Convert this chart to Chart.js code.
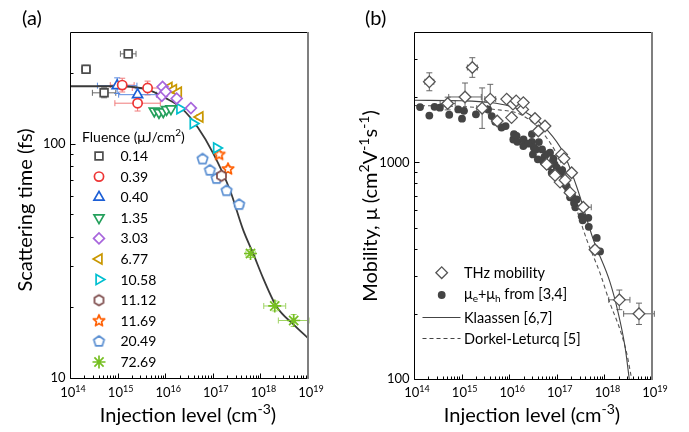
<!DOCTYPE html>
<html>
<head>
<meta charset="utf-8">
<script src="https://cdn.jsdelivr.net/npm/chart.js@4.4.1/dist/chart.umd.min.js"></script>
<style>
html, body { margin: 0; padding: 0; background: #fff; }
#wrap { position: relative; width: 689px; height: 432px; overflow: hidden; }
canvas { position: absolute; top: 0; }
#ca { left: 0; }
#cb { left: 345px; }
</style>
</head>
<body>
<div id="wrap">
  <canvas id="ca" width="345" height="432"></canvas>
  <canvas id="cb" width="344" height="432"></canvas>
</div>
<script>
// ---- panel (a): scattering time (fs) vs injection level, one set per fluence ----
const fluences = ['0.14', '0.39', '0.40', '1.35', '3.03', '6.77', '10.58', '11.12', '11.69', '20.49', '72.69'];

const f014X = [2.17e14, 5.2e14, 1.67e15];
const f014Y = [208, 165, 242];
const f014DX = [1.23, 1.76, 1.46];
const f014DY = [1.04, 1.05, 1.04];

const f039X = [1.25e15, 2.63e15, 4.27e15];
const f039Y = [178, 149, 173];
const f039DX = [1.78, 3.0, 2.1];
const f039DY = [1.07, 1.08, 1.07];

const f040X = [9.8e14, 2.63e15];
const f040Y = [177, 162];
const f040DX = [2.6, 2.5];
const f040DY = [1.08, 1.06];

const f135X = [5.9e15, 7.4e15, 9.1e15, 1.07e16, 1.32e16];
const f135Y = [138, 136, 137, 140, 141];

const f303X = [8.8e15, 8.5e15, 1.03e16, 1.74e16, 3.47e16];
const f303Y = [175, 160, 167, 156, 142];

const f677X = [1.2e16, 1.49e16, 1.89e16, 5.35e16];
const f677Y = [174, 170, 166, 130];
const f677DX = [1.08, 1.08, 1.08, 1.15];

const f1058X = [2.03e16, 3.87e16, 1.2e17];
const f1058Y = [141, 122, 96];
const f1058DX = [1.1, 1.1, 1.1];

const f1112X = [1.52e17];
const f1112Y = [73];
const f1112DX = [1.15];

const f1169X = [1.36e17, 2.09e17];
const f1169Y = [90, 78];
const f1169DX = [1.1, 1.12];
const f1169DY = [1.03, 1.03];

const f2049X = [6.1e16, 8.7e16, 1.2e17, 1.95e17, 3.57e17];
const f2049Y = [86, 77, 71, 63, 55];
const f2049DX = [1, 1.1, 1.15, 1.15, 1.25];

const f7269X = [6.2e17, 2.0e18, 5.0e18];
const f7269Y = [34, 20.3, 17.6];
const f7269DX = [1.25, 1.7, 2.1];
const f7269DY = [1.04, 1.05, 1.06];

// fit curve
const fitAX = [1e14, 1e15, 4.4e15, 1e16, 2.2e16, 4.9e16, 1.02e17, 2.28e17, 4.34e17, 7.0e17, 1.14e18, 2.18e18, 5e18, 1e19];
const fitAY = [176, 176, 170, 157, 142, 117, 91, 63.6, 42.9, 34.1, 26.7, 20.2, 16.9, 14.8];

// ---- panel (b): mobility ----
const thzX = [2.1e14, 5.1e14, 1.18e15, 1.68e15, 2.7e15, 4.0e15, 5.6e15, 8.85e15, 1.12e16, 1.2e16, 1.4e16, 1.92e16, 1.98e16,
  3.48e16, 4.09e16, 5.65e16, 6.14e16, 9.2e16, 1.17e17, 1.26e17, 1.42e17, 1.49e17, 1.89e17, 2.05e17, 3.6e17, 6.35e17, 2.06e18, 5.33e18];
const thzY = [2356, 1870, 2005, 2742, 1780, 1960, 1553, 1960, 1610, 1858, 1923, 1757, 1888,
  1594, 1396, 1472, 979, 871, 811, 1089, 1041, 828, 725, 896, 621, 395, 232, 200];
const thzDX = [1.24, 1.44, 2.2, 1.27, 1.3, 1.3, 1, 1, 1, 1, 1, 1, 1,
  1, 1, 1, 1, 1, 1, 1, 1, 1, 1, 1, 1.47, 1.2, 1.67, 2.1];
const thzDY = [1.1, 1.07, 1.16, 1.11, 1.24, 1.17, 1, 1, 1, 1, 1, 1, 1,
  1, 1, 1, 1, 1, 1, 1, 1, 1, 1, 1, 1, 1.04, 1.11, 1.12];

const sumX = [1.34e14, 2.1e14, 2.7e14, 3.5e14, 5.5e14, 8.5e14, 1.02e15, 1.12e15, 2.0e15, 3.6e15, 4.3e15, 5.1e15, 6.9e15, 8.4e15,
  1.22e16, 1.26e16, 1.43e16, 1.48e16, 1.98e16, 2.0e16, 3.0e16, 3.0e16, 3.3e16, 3.15e16, 3.66e16, 4.0e16, 4.2e16, 4.9e16,
  5.5e16, 7.2e16, 6.6e16, 7.8e16, 8.5e16, 9.0e16, 9.96e16, 1.05e17, 1.1e17, 1.27e17, 1.3e17, 1.4e17, 1.61e17, 1.75e17,
  2.1e17, 2.45e17, 2.62e17, 3.33e17, 3.5e17, 4.6e17, 4.7e17, 6.9e17, 8.1e17,
  2.5e16, 5.2e16, 6.0e16, 8.0e16, 1.15e17, 1.5e17, 1.9e17, 2.3e17];
const sumY = [1800, 1645, 1805, 1790, 1660, 1757, 1592, 1730, 1667, 1757, 1637, 1540, 1449, 1472,
  1276, 1351, 1324, 1245, 1189, 1276, 1351, 1245, 1170, 1089, 1148, 1033, 1241, 1148,
  1060, 1109, 961, 896, 1040, 980, 946, 860, 900, 865, 920, 810, 777, 740,
  700, 620, 674, 564, 540, 555, 504, 448, 388,
  1220, 1010, 1090, 1000, 830, 790, 690, 650];

const klaX = [1e14, 1e15, 4e15, 1e16, 2.7e16, 6.1e16, 1.37e17, 2.65e17, 5.85e17, 1.31e18, 1.96e18, 2.71e18, 3.33e18];
const klaY = [1936, 1925, 1890, 1820, 1660, 1422, 1110, 766, 440, 280, 201, 141, 100];

const dorX = [1e14, 1e15, 4.6e15, 1.98e16, 6.1e16, 1.37e17, 2.22e17, 4.25e17, 8.1e17, 1.31e18, 2.13e18, 2.94e18, 3.74e18];
const dorY = [1830, 1810, 1760, 1640, 1300, 944, 680, 440, 308, 224, 169, 131.5, 100];

// axis ticks
const xExponents = [14, 15, 16, 17, 18, 19];
const yLabelsA = [10, 100];
const yLabelsB = [100, 1000];

// ---------------------------------------------------------------
const FONT = 'Lato, "Open Sans", sans-serif';

function pts(xs, ys) {
  return xs.map((x, i) => ({ x: x, y: ys[i] }));
}

function polyShape(n, color, r, inner) {
  const s = Math.ceil(2 * r + 4);
  const c = document.createElement('canvas');
  c.width = s; c.height = s;
  const g = c.getContext('2d');
  g.translate(s / 2, s / 2);
  g.beginPath();
  const k = inner ? n * 2 : n;
  for (let i = 0; i < k; i++) {
    const a = -Math.PI / 2 + i * 2 * Math.PI / k;
    const rr = (inner && i % 2) ? r * inner : r;
    g.lineTo(rr * Math.cos(a), rr * Math.sin(a));
  }
  g.closePath();
  g.fillStyle = '#fff';
  g.fill();
  g.lineWidth = 1.7;
  g.lineJoin = 'round';
  g.strokeStyle = color;
  g.stroke();
  return c;
}

function parseRich(str) {
  const out = [];
  const re = /([\^_])\{([^}]*)\}/g;
  let last = 0, m;
  while ((m = re.exec(str))) {
    if (m.index > last) out.push({ t: str.slice(last, m.index) });
    out.push({ t: m[2], k: m[1] === '^' ? 'sup' : 'sub' });
    last = re.lastIndex;
  }
  if (last < str.length) out.push({ t: str.slice(last) });
  return out;
}

function drawRich(ctx, str, x, y, size, align) {
  const segs = parseRich(str);
  const fontOf = s => (s.k ? Math.round(size * 0.68) : size) + 'px ' + FONT;
  let w = 0;
  segs.forEach(s => { ctx.font = fontOf(s); w += ctx.measureText(s.t).width; });
  let cx = align === 'center' ? x - w / 2 : align === 'right' ? x - w : x;
  ctx.textAlign = 'left';
  ctx.textBaseline = 'alphabetic';
  segs.forEach(s => {
    ctx.font = fontOf(s);
    const dy = s.k === 'sup' ? -size * 0.4 : s.k === 'sub' ? size * 0.22 : 0;
    ctx.fillText(s.t, cx, y + dy);
    cx += ctx.measureText(s.t).width;
  });
}

function logTicks(min, max) {
  const out = [];
  for (let d = Math.floor(Math.log10(min)); d <= Math.ceil(Math.log10(max)); d++) {
    for (let m = 1; m < 10; m++) {
      const v = m * Math.pow(10, d);
      if (v >= min * 0.999 && v < max * 0.999) out.push({ v: v, major: m === 1 });
    }
  }
  return out;
}

// error bars drawn under the markers
const errorBars = {
  id: 'errorBars',
  beforeDatasetsDraw(chart) {
    const ctx = chart.ctx, xs = chart.scales.x, ys = chart.scales.y;
    chart.data.datasets.forEach(ds => {
      if (!ds.dx && !ds.dy) return;
      ctx.save();
      ctx.strokeStyle = ds.errColor || ds.borderColor;
      ctx.lineWidth = 1;
      ds.data.forEach((p, j) => {
        const x = xs.getPixelForValue(p.x), y = ys.getPixelForValue(p.y);
        const fx = ds.dx ? ds.dx[j] : 1, fy = ds.dy ? ds.dy[j] : 1;
        ctx.beginPath();
        if (fx > 1) {
          const x0 = xs.getPixelForValue(p.x / fx), x1 = xs.getPixelForValue(p.x * fx);
          ctx.moveTo(x0, y); ctx.lineTo(x1, y);
          ctx.moveTo(x0, y - 3); ctx.lineTo(x0, y + 3);
          ctx.moveTo(x1, y - 3); ctx.lineTo(x1, y + 3);
        }
        if (fy > 1) {
          const y0 = ys.getPixelForValue(p.y / fy), y1 = ys.getPixelForValue(p.y * fy);
          ctx.moveTo(x, y0); ctx.lineTo(x, y1);
          ctx.moveTo(x - 3, y0); ctx.lineTo(x + 3, y0);
          ctx.moveTo(x - 3, y1); ctx.lineTo(x + 3, y1);
        }
        ctx.stroke();
      });
      ctx.restore();
    });
  }
};

// frame, inward log ticks, tick labels, titles, legend
const panel = {
  id: 'panel',
  afterDraw(chart, args, o) {
    const ctx = chart.ctx, a = chart.chartArea, xs = chart.scales.x, ys = chart.scales.y;
    const L = Math.round(a.left) + 0.5, R = Math.round(a.right), T = Math.round(a.top) + 0.5, B = Math.round(a.bottom) + 0.5;
    ctx.save();
    ctx.strokeStyle = '#000';
    ctx.lineWidth = 1;
    ctx.beginPath();
    ctx.moveTo(R, T); ctx.lineTo(L, T); ctx.lineTo(L, B); ctx.lineTo(R, B);
    logTicks(xs.min, xs.max).forEach(t => {
      const px = Math.round(xs.getPixelForValue(t.v)) + 0.5;
      ctx.moveTo(px, B); ctx.lineTo(px, B - (t.major ? 5 : 3));
    });
    logTicks(ys.min, ys.max).forEach(t => {
      const py = Math.round(ys.getPixelForValue(t.v)) + 0.5;
      ctx.moveTo(L, py); ctx.lineTo(L + (t.major ? 5 : 3), py);
    });
    ctx.stroke();
    ctx.strokeStyle = '#7f7f7f';
    ctx.lineWidth = 2;
    ctx.beginPath(); ctx.moveTo(R, T - 0.5); ctx.lineTo(R, B + 0.5); ctx.stroke();

    ctx.fillStyle = '#000';
    xExponents.forEach(e => {
      drawRich(ctx, '10^{' + e + '}', xs.getPixelForValue(Math.pow(10, e)) + 3, 397, 13, 'center');
    });
    o.yLabels.forEach(v => {
      ctx.font = '13px ' + FONT;
      ctx.textAlign = 'right';
      ctx.textBaseline = 'middle';
      ctx.fillText(String(v), L - 5, ys.getPixelForValue(v));
    });
    drawRich(ctx, o.xTitle, (a.left + a.right) / 2 - 1, 421.5, 20, 'center');
    ctx.save();
    ctx.translate(31.5, o.yTitleY);
    ctx.rotate(-Math.PI / 2);
    drawRich(ctx, o.yTitle, 0, 0, 20, 'center');
    ctx.restore();
    ctx.font = '20px ' + FONT;
    ctx.textAlign = 'left';
    ctx.textBaseline = 'alphabetic';
    ctx.fillText(o.label, o.labelX, 25);
    o.legend(ctx, chart);
    ctx.restore();
  }
};

function drawMarker(ctx, ds, x, y) {
  ctx.save();
  ctx.fillStyle = ds.pointBackgroundColor || '#fff';
  ctx.strokeStyle = ds.borderColor;
  ctx.lineWidth = ds.pointBorderWidth;
  Chart.helpers.drawPoint(ctx, {
    pointStyle: ds.pointStyle, rotation: ds.pointRotation || 0,
    radius: ds.pointRadius, borderWidth: ds.pointBorderWidth
  }, x, y);
  ctx.restore();
}

// ---- panel (a) datasets ----
const colorsA = ['#4d4d4d', '#ee3535', '#1c5fd6', '#24a05c', '#a866dc', '#c99700', '#00bfd0', '#7b4848', '#ff5e00', '#5a8fd2', '#76bf22'];
const errColorsA = ['#6a6a6a', '#f07a7a', '#5a8be0', '#24a05c', '#a866dc', '#c99700', '#30c8d8', '#7b4848', '#ff8a40', '#7fa8dc', '#9fd364'];
const seriesA = [
  [f014X, f014Y, f014DX, f014DY],
  [f039X, f039Y, f039DX, f039DY],
  [f040X, f040Y, f040DX, f040DY],
  [f135X, f135Y, null, null],
  [f303X, f303Y, null, null],
  [f677X, f677Y, f677DX, null],
  [f1058X, f1058Y, f1058DX, null],
  [f1112X, f1112Y, f1112DX, null],
  [f1169X, f1169Y, f1169DX, f1169DY],
  [f2049X, f2049Y, f2049DX, null],
  [f7269X, f7269Y, f7269DX, f7269DY]
];
const stylesA = [
  { ps: 'rect', r: 5.5 },
  { ps: 'circle', r: 4.6 },
  { ps: 'triangle', r: 5.8 },
  { ps: 'triangle', r: 5.8, rot: 180 },
  { ps: 'rectRot', r: 5.4 },
  { ps: 'triangle', r: 5.8, rot: 270 },
  { ps: 'triangle', r: 5.8, rot: 90 },
  { ps: polyShape(6, colorsA[7], 5.2), r: 5 },
  { ps: polyShape(5, colorsA[8], 6, 0.45), r: 5 },
  { ps: polyShape(5, colorsA[9], 5.5), r: 5 },
  { ps: 'star', r: 6.5 }
];

const datasetsA = seriesA.map((s, i) => ({
  label: fluences[i],
  data: pts(s[0], s[1]),
  dx: s[2], dy: s[3],
  errColor: errColorsA[i],
  borderColor: colorsA[i],
  pointBackgroundColor: '#fff',
  pointStyle: stylesA[i].ps,
  pointRotation: stylesA[i].rot || 0,
  pointRadius: stylesA[i].r,
  pointBorderWidth: 1.7,
  showLine: false
}));
datasetsA.push({
  label: 'fit',
  data: pts(fitAX, fitAY),
  showLine: true,
  borderColor: '#3a3a3a',
  borderWidth: 1.8,
  pointRadius: 0,
  cubicInterpolationMode: 'monotone',
  fill: false
});

new Chart(document.getElementById('ca'), {
  type: 'scatter',
  data: { datasets: datasetsA },
  options: {
    responsive: false,
    devicePixelRatio: 1,
    animation: false,
    layout: { padding: { left: 70, right: 37, top: 32, bottom: 54 } },
    scales: {
      x: { type: 'logarithmic', min: 1e14, max: 1e19, display: false },
      y: { type: 'logarithmic', min: 10, max: 300, display: false }
    },
    plugins: {
      legend: { display: false },
      tooltip: { enabled: false },
      panel: {
        label: '(a)', labelX: 22,
        yLabels: yLabelsA,
        xTitle: 'Injection level (cm^{-3})',
        yTitle: 'Scattering time (fs)',
        yTitleY: 210,
        legend(ctx, chart) {
          ctx.fillStyle = '#000';
          drawRich(ctx, 'Fluence (\u03bcJ/cm^{2})', 82, 142, 14, 'left');
          chart.data.datasets.slice(0, fluences.length).forEach((ds, i) => {
            const y = 156 + i * 20.6;
            drawMarker(ctx, ds, 99, y);
            ctx.fillStyle = '#000';
            ctx.font = '14px ' + FONT;
            ctx.textAlign = 'left';
            ctx.textBaseline = 'middle';
            ctx.fillText(fluences[i], 120.5, y + 0.5);
          });
        }
      }
    }
  },
  plugins: [errorBars, panel]
});

// ---- panel (b) datasets ----
const datasetsB = [
  {
    label: 'THz mobility',
    data: pts(thzX, thzY),
    dx: thzDX, dy: thzDY,
    errColor: '#666',
    borderColor: '#555',
    pointBackgroundColor: '#fff',
    pointStyle: 'rectRot',
    pointRadius: 5.8,
    pointBorderWidth: 1.3,
    showLine: false
  },
  {
    label: '\u03bce+\u03bch from [3,4]',
    data: pts(sumX, sumY),
    borderColor: '#444',
    pointBackgroundColor: '#444',
    pointStyle: 'circle',
    pointRadius: 3.9,
    pointBorderWidth: 0,
    showLine: false
  },
  {
    label: 'Klaassen [6,7]',
    data: pts(klaX, klaY),
    showLine: true,
    borderColor: '#444',
    borderWidth: 1.1,
    pointRadius: 0,
    cubicInterpolationMode: 'monotone',
    fill: false
  },
  {
    label: 'Dorkel-Leturcq [5]',
    data: pts(dorX, dorY),
    showLine: true,
    borderColor: '#555',
    borderWidth: 1.1,
    borderDash: [4, 3],
    pointRadius: 0,
    cubicInterpolationMode: 'monotone',
    fill: false
  }
];

new Chart(document.getElementById('cb'), {
  type: 'scatter',
  data: { datasets: datasetsB },
  options: {
    responsive: false,
    devicePixelRatio: 1,
    animation: false,
    layout: { padding: { left: 69, right: 37, top: 32, bottom: 53 } },
    scales: {
      x: { type: 'logarithmic', min: 1e14, max: 1e19, display: false },
      y: { type: 'logarithmic', min: 100, max: 4000, display: false }
    },
    plugins: {
      legend: { display: false },
      tooltip: { enabled: false },
      panel: {
        label: '(b)', labelX: 20,
        yLabels: yLabelsB,
        xTitle: 'Injection level (cm^{-3})',
        yTitle: 'Mobility, \u03bc (cm^{2}V^{-1}s^{-1})',
        yTitleY: 206,
        legend(ctx, chart) {
          const ds = chart.data.datasets;
          drawMarker(ctx, ds[0], 96.7, 272.7);
          drawMarker(ctx, ds[1], 96.7, 295);
          ctx.save();
          ctx.strokeStyle = '#444';
          ctx.lineWidth = 1.1;
          ctx.beginPath(); ctx.moveTo(77.5, 317.5); ctx.lineTo(115.5, 317.5); ctx.stroke();
          ctx.setLineDash([4, 3]);
          ctx.beginPath(); ctx.moveTo(77.5, 338.5); ctx.lineTo(115.5, 338.5); ctx.stroke();
          ctx.restore();
          ctx.fillStyle = '#000';
          drawRich(ctx, 'THz mobility', 119, 278, 14.5, 'left');
          drawRich(ctx, '\u03bc_{e}+\u03bc_{h} from [3,4]', 119, 299, 14.5, 'left');
          drawRich(ctx, 'Klaassen [6,7]', 119, 322.5, 14.5, 'left');
          drawRich(ctx, 'Dorkel-Leturcq [5]', 119, 343.5, 14.5, 'left');
        }
      }
    }
  },
  plugins: [errorBars, panel]
});
</script>
</body>
</html>
